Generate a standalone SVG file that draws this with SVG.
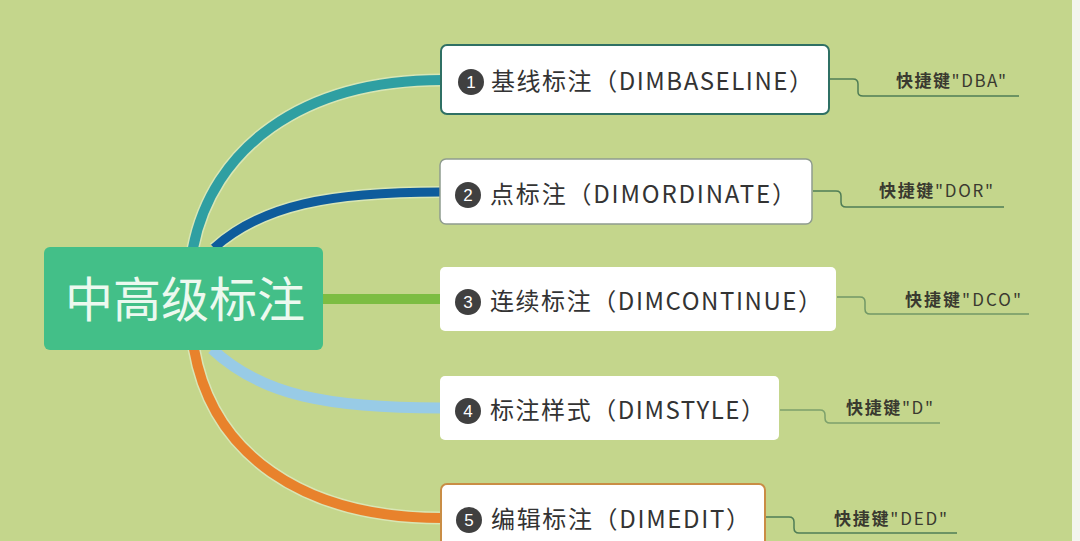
<svg xmlns="http://www.w3.org/2000/svg" width="1080" height="541" viewBox="0 0 1080 541">
<style>
.branch{fill:none;stroke-linecap:butt}
.halo{fill:none;stroke:#e6f0d0;stroke-opacity:0.6}
.box{fill:#ffffff}
.lbl{font-family:"Noto Sans CJK SC","Noto Sans",sans-serif;font-size:24px;fill:#333333}
.num{font-family:"Liberation Sans",Arial,sans-serif;font-size:17px;fill:#ffffff;text-anchor:middle}
.badge{fill:#404040}
.key{font-family:"Noto Sans CJK SC","Noto Sans",sans-serif;font-size:17px;fill:#3a3a30}
.keyline{fill:none;stroke:#4f7d55;stroke-width:1.5}
</style>
<rect width="1080" height="541" fill="#c4d68c"/>
<rect x="1072" y="0" width="8" height="541" fill="#f4f5ef"/>

<g id="connectors">
  <path class="halo" stroke-width="13" d="M193,248 C212,150 300,80 442,80"/>
  <path class="branch" stroke="#2f9fa2" stroke-width="10" d="M193,248 C212,150 300,80 442,80"/>
  <path class="halo" stroke-width="12" d="M214,248 C262,205 330,192 441,192"/>
  <path class="branch" stroke="#0e5c9c" stroke-width="9" d="M214,248 C262,205 330,192 441,192"/>
  <path class="branch" stroke="#7cbd42" stroke-width="10" d="M322,299 L441,299"/>
  <path class="branch" stroke="#98cbe6" stroke-width="11" d="M212,349 C262,396 330,408 441,408"/>
  <path class="halo" stroke-width="13" d="M194,349 C212,452 300,518 442,518"/>
  <path class="branch" stroke="#e8822c" stroke-width="10" d="M194,349 C212,452 300,518 442,518"/>
  <path class="keyline" d="M830,79 H853 Q858,79 858,84 V92 Q858,96 863,96 H1019"/>
  <path class="keyline" d="M813,191 H836 Q841,191 841,196 V202 Q841,207 846,207 H1004"/>
  <path class="keyline" stroke-opacity="0.7" d="M837,297 H860 Q865,297 865,302 V309 Q865,314 870,314 H1029"/>
  <path class="keyline" stroke="#cbdc9a" stroke-opacity="0.6" d="M780,410 H820 Q825,410 825,415 V418 Q825,423 830,423 H940"/>
  <path class="keyline" d="M766,517 H789 Q794,517 794,522 V528 Q794,533 799,533 H957"/>
</g>

<g id="center">
  <rect x="44" y="247" width="279" height="103" rx="6" fill="#43bf88"/>
  <text x="185" y="317" text-anchor="middle" font-family="'Noto Sans CJK SC','Noto Sans',sans-serif" font-size="48" fill="#ecf9ef">中高级标注</text>
</g>

<g id="node1">
  <rect class="box" x="441" y="45" width="388" height="69" rx="6" stroke="#2f7064" stroke-width="2"/>
  <circle class="badge" cx="471" cy="82" r="13"/>
  <text class="num" x="471" y="88">1</text>
  <text class="lbl" x="491" y="90" textLength="322" lengthAdjust="spacing">基线标注（DIMBASELINE）</text>
</g>
<g id="node2">
  <rect class="box" x="440" y="159" width="372" height="65" rx="6" stroke="#8f9c8f" stroke-width="1.5"/>
  <circle class="badge" cx="468" cy="195" r="13"/>
  <text class="num" x="468" y="201">2</text>
  <text class="lbl" x="490" y="203" textLength="306" lengthAdjust="spacing">点标注（DIMORDINATE）</text>
</g>
<g id="node3">
  <rect class="box" x="440" y="267" width="396" height="64" rx="5"/>
  <circle class="badge" cx="468" cy="302" r="13"/>
  <text class="num" x="468" y="308">3</text>
  <text class="lbl" x="490" y="310" textLength="332" lengthAdjust="spacing">连续标注（DIMCONTINUE）</text>
</g>
<g id="node4">
  <rect class="box" x="440" y="376" width="339" height="64" rx="5"/>
  <circle class="badge" cx="468" cy="411" r="13"/>
  <text class="num" x="468" y="417">4</text>
  <text class="lbl" x="490" y="419" textLength="275" lengthAdjust="spacing">标注样式（DIMSTYLE）</text>
</g>
<g id="node5">
  <rect class="box" x="441" y="484" width="324" height="70" rx="6" stroke="#c98d45" stroke-width="2"/>
  <circle class="badge" cx="469" cy="520" r="13"/>
  <text class="num" x="469" y="526">5</text>
  <text class="lbl" x="491" y="528" textLength="259" lengthAdjust="spacing">编辑标注（DIMEDIT）</text>
</g>

<g id="key1"><text class="key" x="896" y="87" textLength="110" lengthAdjust="spacing"><tspan font-weight="bold">快捷键</tspan>"DBA"</text></g>
<g id="key2"><text class="key" x="879" y="197" textLength="114" lengthAdjust="spacing"><tspan font-weight="bold">快捷键</tspan>"DOR"</text></g>
<g id="key3"><text class="key" x="905" y="306" textLength="116" lengthAdjust="spacing"><tspan font-weight="bold">快捷键</tspan>"DCO"</text></g>
<g id="key4"><text class="key" x="846" y="414" textLength="87" lengthAdjust="spacing"><tspan font-weight="bold">快捷键</tspan>"D"</text></g>
<g id="key5"><text class="key" x="834" y="525" textLength="113" lengthAdjust="spacing"><tspan font-weight="bold">快捷键</tspan>"DED"</text></g>
</svg>
